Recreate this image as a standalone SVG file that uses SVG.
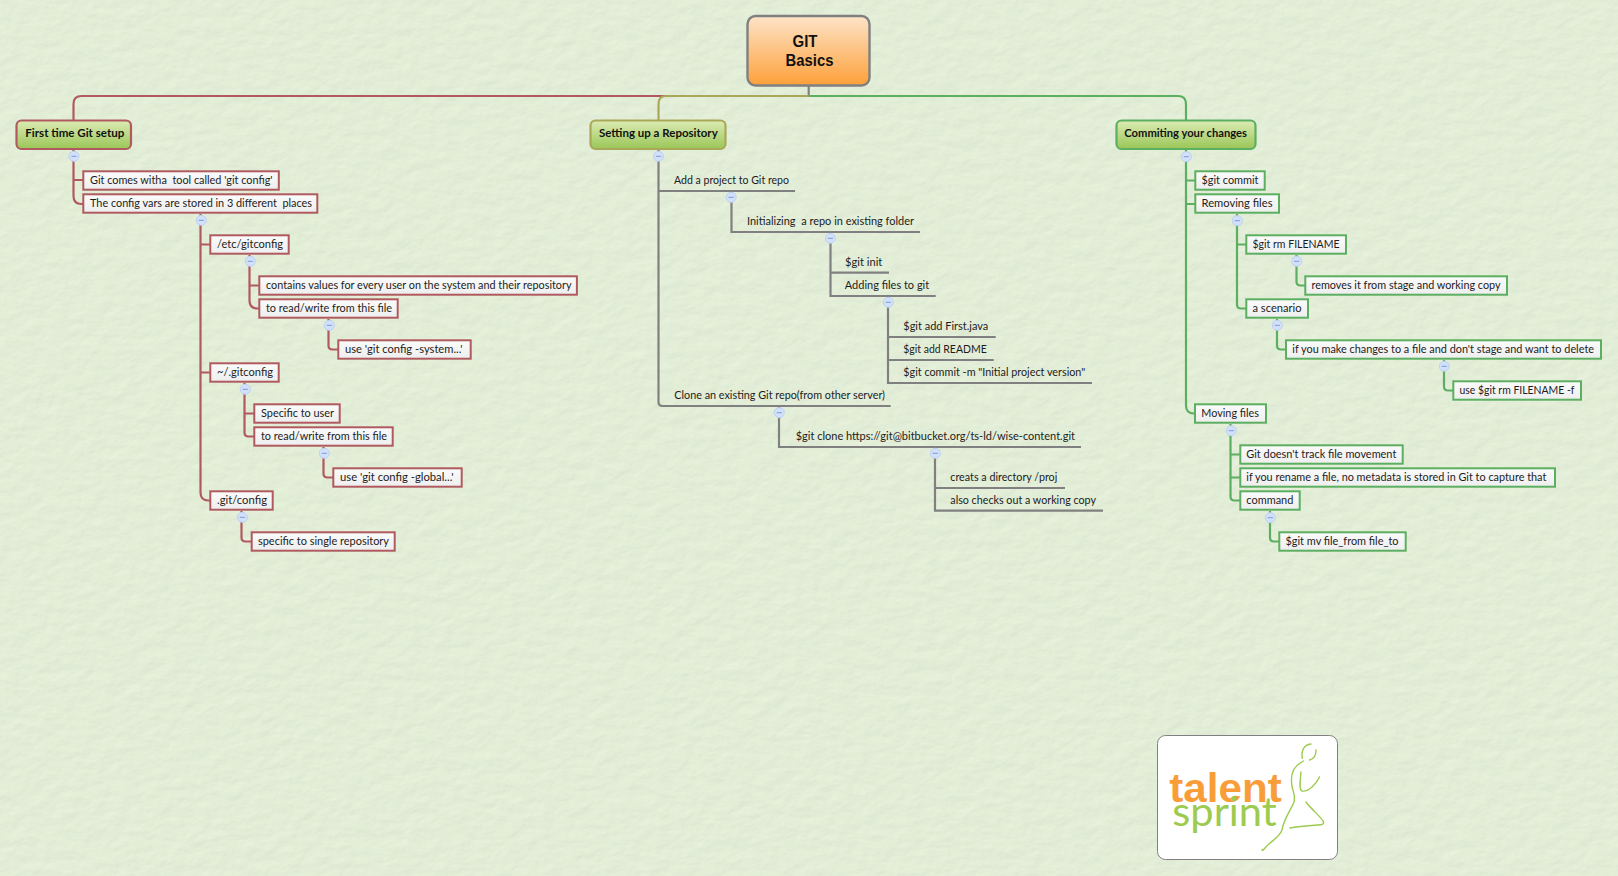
<svg xmlns="http://www.w3.org/2000/svg" width="1618" height="876" viewBox="0 0 1618 876">
<style>
text{font-family:"Lato","Noto Sans","Liberation Sans",sans-serif;font-size:12px;fill:#1c1c1c;white-space:pre;transform:translateY(.7px)}
.t{font-weight:700;fill:#111;font-size:12px;transform:none}
.root{font-family:"Liberation Sans",sans-serif;font-size:16.5px}
.logo-t{transform:none;font-size:40px}
.topic rect{stroke-width:2.2}
.leaf rect{fill:url(#lg);stroke-width:2}
.r rect{stroke:#b05a60}
.g rect{stroke:#5cae60}
.c path{fill:none;stroke-width:2.2}
.cr path{stroke:#b05a60}
.cg path{stroke:#5cae60}
.cy path{stroke:#808080}
</style>
<defs>
<linearGradient id="lg" x1="0" y1="0" x2="0" y2="1"><stop offset="0" stop-color="#fbfbfb"/><stop offset="1" stop-color="#eeeeee"/></linearGradient>
<linearGradient id="tg" x1="0" y1="0" x2="0" y2="1"><stop offset="0" stop-color="#dcebb4"/><stop offset="1" stop-color="#9ac657"/></linearGradient>
<linearGradient id="rg" x1="0" y1="0" x2="0" y2="1"><stop offset="0" stop-color="#fde4c8"/><stop offset="1" stop-color="#fda03a"/></linearGradient>
<filter id="paper" x="0" y="0" width="100%" height="100%">
<feTurbulence type="fractalNoise" baseFrequency="0.06 0.09" numOctaves="4" seed="7" result="n"/>
<feDiffuseLighting in="n" surfaceScale="0.45" diffuseConstant="1" lighting-color="#e3eed8"><feDistantLight azimuth="235" elevation="62"/></feDiffuseLighting>
<feComponentTransfer><feFuncR type="linear" slope="1.125" intercept="0"/><feFuncG type="linear" slope="1.125" intercept="0"/><feFuncB type="linear" slope="1.125" intercept="0"/></feComponentTransfer>
</filter>
<g id="minus"><circle r="5" fill="#d2e1fb" stroke="#bcd0f4" stroke-width="1"/><path d="M-2.6 0H2.6" stroke="#7f9ac8" stroke-width="1" fill="none"/></g>
</defs>
<rect id="background" width="1618" height="876" fill="#e3eed8"/>
<rect width="1618" height="876" filter="url(#paper)"/>

<g id="connectors" class="c">
<path d="M808.7 86V96" stroke="#808080"/>
<g class="cr">
<path d="M808.7 96H81.5Q73.5 96 73.5 104V120"/>
<path d="M73.5 149V196Q73.5 204 81.5 204H83M73.5 180H83"/>
<path d="M200.5 214V492.5Q200.5 500.5 208.5 500.5H210M200.5 244.5H210M200.5 372.5H210"/>
<path d="M249.5 255V300.5Q249.5 308.5 257.5 308.5H259M249.5 285.5H259"/>
<path d="M328.5 319V345.5Q328.5 349.5 332.5 349.5H338"/>
<path d="M244.5 383V432.5Q244.5 436.5 248.5 436.5H254M244.5 413.5H254"/>
<path d="M323.5 447V473.5Q323.5 477.5 327.5 477.5H333"/>
<path d="M241.5 511V537.5Q241.5 541.5 245.5 541.5H251"/>
</g>
<path d="M808.7 96H666Q658.5 96 658.5 104V120" stroke="#a9a858"/>
<g class="cy">
<path d="M658.5 149V402Q658.5 406 662.5 406H890.7M658.5 191H795"/>
<path d="M731.5 191V232H920"/>
<path d="M830.5 232V296H935.7M830.5 272.7H889"/>
<path d="M888 296V383H1092M888 337H995.7M888 360H993.7"/>
<path d="M779 406V447H1081"/>
<path d="M935 447V510.7H1103M935 488H1065"/>
</g>
<g class="cg">
<path d="M808.7 96H1178Q1186 96 1186 104V120"/>
<path d="M1186 149V405.5Q1186 413.5 1194 413.5H1195M1186 180.5H1195M1186 204H1195"/>
<path d="M1237 214V304.5Q1237 308.5 1241 308.5H1246M1237 244.5H1246"/>
<path d="M1296.5 255V281.5Q1296.5 285.5 1300.5 285.5H1305"/>
<path d="M1277 319V345.5Q1277 349.5 1281 349.5H1286"/>
<path d="M1444 360V386.5Q1444 390.5 1448 390.5H1453"/>
<path d="M1230.5 424V496.5Q1230.5 500.5 1234.5 500.5H1240M1230.5 454.5H1240M1230.5 477.5H1240"/>
<path d="M1270 511V537.5Q1270 541.5 1274 541.5H1279"/>
</g>
</g>

<g id="root"><rect x="747.5" y="16" width="122" height="69.5" rx="8" fill="url(#rg)" stroke="#808080" stroke-width="2.4"/>
<text class="t root" x="792.5" y="47" textLength="25" lengthAdjust="spacingAndGlyphs">GIT</text>
<text class="t root" x="785.6" y="66.3" textLength="47.8" lengthAdjust="spacingAndGlyphs">Basics</text></g>

<g id="topic-setup" class="topic"><rect x="16.5" y="120.5" width="114.5" height="28.5" rx="5" fill="url(#tg)" stroke="#b05a60"/><text class="t" x="25.3" y="137.3" textLength="99" lengthAdjust="spacingAndGlyphs">First time Git setup</text></g>
<g id="topic-repo" class="topic"><rect x="590.5" y="120.5" width="135" height="28.5" rx="5" fill="url(#tg)" stroke="#a9a858"/><text class="t" x="599" y="137.3" textLength="118.7" lengthAdjust="spacingAndGlyphs">Setting up a Repository</text></g>
<g id="topic-commit" class="topic"><rect x="1116.5" y="120.5" width="139" height="28.5" rx="5" fill="url(#tg)" stroke="#5cae60"/><text class="t" x="1124.3" y="137.3" textLength="122.7" lengthAdjust="spacingAndGlyphs">Commiting your changes</text></g>

<g id="n1" class="leaf r"><rect x="83.3" y="171.3" width="195.5" height="18.4"/><text x="90" y="183.3" textLength="182.5" lengthAdjust="spacingAndGlyphs">Git comes witha  tool called 'git config'</text></g>
<g id="n2" class="leaf r"><rect x="83.3" y="194.3" width="234" height="18.4"/><text x="90" y="206.3" textLength="222" lengthAdjust="spacingAndGlyphs">The config vars are stored in 3 different  places</text></g>
<g id="n3" class="leaf r"><rect x="210.3" y="235.3" width="78.4" height="18.4"/><text x="217" y="247.3" textLength="66" lengthAdjust="spacingAndGlyphs">/etc/gitconfig</text></g>
<g id="n4" class="leaf r"><rect x="259.3" y="276.3" width="317.6" height="18.4"/><text x="266" y="288.3" textLength="305.5" lengthAdjust="spacingAndGlyphs">contains values for every user on the system and their repository</text></g>
<g id="n5" class="leaf r"><rect x="259.3" y="299.3" width="138.4" height="18.4"/><text x="266" y="311.3" textLength="126" lengthAdjust="spacingAndGlyphs">to read/write from this file</text></g>
<g id="n6" class="leaf r"><rect x="338.3" y="340.3" width="132.4" height="18.4"/><text x="345" y="352.3" textLength="117.5" lengthAdjust="spacingAndGlyphs">use 'git config -system...'</text></g>
<g id="n7" class="leaf r"><rect x="210.3" y="363.3" width="68.4" height="18.4"/><text x="217" y="375.3" textLength="56" lengthAdjust="spacingAndGlyphs">~/.gitconfig</text></g>
<g id="n8" class="leaf r"><rect x="254.3" y="404.3" width="85.4" height="18.4"/><text x="261" y="416.3" textLength="73" lengthAdjust="spacingAndGlyphs">Specific to user</text></g>
<g id="n9" class="leaf r"><rect x="254.3" y="427.3" width="138.4" height="18.4"/><text x="261" y="439.3" textLength="126" lengthAdjust="spacingAndGlyphs">to read/write from this file</text></g>
<g id="n10" class="leaf r"><rect x="333.3" y="468.3" width="128.4" height="18.4"/><text x="340" y="480.3" textLength="113.5" lengthAdjust="spacingAndGlyphs">use 'git config -global...'</text></g>
<g id="n11" class="leaf r"><rect x="210.3" y="491.3" width="62.4" height="18.4"/><text x="217" y="503.3" textLength="50" lengthAdjust="spacingAndGlyphs">.git/config</text></g>
<g id="n12" class="leaf r"><rect x="251.7" y="532.3" width="143" height="18.4"/><text x="258" y="544.3" textLength="131" lengthAdjust="spacingAndGlyphs">specific to single repository</text></g>

<g id="m1"><text x="674" y="183.3" textLength="115" lengthAdjust="spacingAndGlyphs">Add a project to Git repo</text></g>
<g id="m2"><text x="747" y="224.3" textLength="167" lengthAdjust="spacingAndGlyphs">Initializing  a repo in existing folder</text></g>
<g id="m3"><text x="845" y="265.3" textLength="37.3" lengthAdjust="spacingAndGlyphs">$git init</text></g>
<g id="m4"><text x="844.8" y="288.3" textLength="84.4" lengthAdjust="spacingAndGlyphs">Adding files to git</text></g>
<g id="m5"><text x="903.3" y="329.3" textLength="85" lengthAdjust="spacingAndGlyphs">$git add First.java</text></g>
<g id="m6"><text x="903.3" y="352.3" textLength="83.4" lengthAdjust="spacingAndGlyphs">$git add README</text></g>
<g id="m7"><text x="903.3" y="375.3" textLength="182" lengthAdjust="spacingAndGlyphs">$git commit -m "Initial project version"</text></g>
<g id="m8"><text x="674.3" y="398.3" textLength="210.7" lengthAdjust="spacingAndGlyphs">Clone an existing Git repo(from other server)</text></g>
<g id="m9"><text x="795.7" y="439.3" textLength="279.3" lengthAdjust="spacingAndGlyphs">$git clone https://git@bitbucket.org/ts-ld/wise-content.git</text></g>
<g id="m10"><text x="950.3" y="480.3" textLength="107" lengthAdjust="spacingAndGlyphs">creats a directory /proj</text></g>
<g id="m11"><text x="950.3" y="503.3" textLength="145.7" lengthAdjust="spacingAndGlyphs">also checks out a working copy</text></g>

<g id="c1" class="leaf g"><rect x="1195.3" y="171.3" width="69.4" height="18.4"/><text x="1201.5" y="183.3" textLength="57" lengthAdjust="spacingAndGlyphs">$git commit</text></g>
<g id="c2" class="leaf g"><rect x="1195.3" y="194.3" width="83.7" height="18.4"/><text x="1201.5" y="206.3" textLength="71" lengthAdjust="spacingAndGlyphs">Removing files</text></g>
<g id="c3" class="leaf g"><rect x="1246.3" y="235.3" width="99.7" height="18.4"/><text x="1252.5" y="247.3" textLength="87" lengthAdjust="spacingAndGlyphs">$git rm FILENAME</text></g>
<g id="c4" class="leaf g"><rect x="1305.3" y="276.3" width="201.7" height="18.4"/><text x="1311.5" y="288.3" textLength="189" lengthAdjust="spacingAndGlyphs">removes it from stage and working copy</text></g>
<g id="c5" class="leaf g"><rect x="1246.3" y="299.3" width="61.7" height="18.4"/><text x="1252.5" y="311.3" textLength="49" lengthAdjust="spacingAndGlyphs">a scenario</text></g>
<g id="c6" class="leaf g"><rect x="1286" y="340.3" width="315" height="18.4"/><text x="1292.3" y="352.3" textLength="301.7" lengthAdjust="spacingAndGlyphs">if you make changes to a file and don't stage and want to delete</text></g>
<g id="c7" class="leaf g"><rect x="1453.3" y="381.3" width="127.7" height="18.4"/><text x="1459.5" y="393.3" textLength="115" lengthAdjust="spacingAndGlyphs">use $git rm FILENAME -f</text></g>
<g id="c8" class="leaf g"><rect x="1195" y="404.3" width="71" height="18.4"/><text x="1201.3" y="416.3" textLength="57.7" lengthAdjust="spacingAndGlyphs">Moving files</text></g>
<g id="c9" class="leaf g"><rect x="1240.3" y="445.3" width="162.4" height="18.4"/><text x="1246.3" y="457.3" textLength="150" lengthAdjust="spacingAndGlyphs">Git doesn't track file movement</text></g>
<g id="c10" class="leaf g"><rect x="1240.3" y="468.3" width="314.7" height="18.4"/><text x="1246.3" y="480.3" textLength="300" lengthAdjust="spacingAndGlyphs">if you rename a file, no metadata is stored in Git to capture that</text></g>
<g id="c11" class="leaf g"><rect x="1240.3" y="491.3" width="59.4" height="18.4"/><text x="1246.3" y="503.3" textLength="47" lengthAdjust="spacingAndGlyphs">command</text></g>
<g id="c12" class="leaf g"><rect x="1279.3" y="532.3" width="126.4" height="18.4"/><text x="1285.5" y="544.3" textLength="113" lengthAdjust="spacingAndGlyphs">$git mv file_from file_to</text></g>

<g id="collapse">
<use href="#minus" x="74" y="156.3"/><use href="#minus" x="201.3" y="220.3"/><use href="#minus" x="250.3" y="261.3"/><use href="#minus" x="329.3" y="325.3"/><use href="#minus" x="245.3" y="389.3"/><use href="#minus" x="324.3" y="453.3"/><use href="#minus" x="242.3" y="517.3"/>
<use href="#minus" x="658.5" y="156.3"/><use href="#minus" x="731.2" y="197.3"/><use href="#minus" x="830.3" y="238.3"/><use href="#minus" x="888.3" y="302.3"/><use href="#minus" x="779.3" y="412.7"/><use href="#minus" x="935.3" y="453.3"/>
<use href="#minus" x="1186.3" y="156.7"/><use href="#minus" x="1237.3" y="220.7"/><use href="#minus" x="1296.7" y="261.3"/><use href="#minus" x="1277.3" y="325.3"/><use href="#minus" x="1444.3" y="366.3"/><use href="#minus" x="1231.3" y="430.7"/><use href="#minus" x="1270.3" y="517.7"/>
</g>

<g id="logo">
<rect x="1157.5" y="735.5" width="180" height="124" rx="8" fill="#fff" stroke="#808080" stroke-width="1"/>
<text class="logo-t" x="1169.3" y="801.7" textLength="112.4" lengthAdjust="spacingAndGlyphs" style="font-family:'Liberation Sans',sans-serif;font-weight:700;fill:#f99d38">talent</text>
<text class="logo-t" x="1172.3" y="826" textLength="104.4" lengthAdjust="spacingAndGlyphs" style="font-family:'Lato','Liberation Sans',sans-serif;font-size:41px;font-weight:400;fill:#9ccb4f">sprint</text>
<g fill="none" stroke="#9ccb4f" stroke-width="1.4" stroke-linecap="round">
<path d="M1302.3 758.3C1301 750 1304 745 1311 744"/>
<path d="M1316 750C1316 756 1314.5 759 1309.5 760"/>
<path d="M1303.5 761C1294 766 1291 772 1291.5 782C1292 792 1296 794 1294 802C1290 812 1284 818 1282 830C1279 838 1272 840 1265 848C1261 853 1264 848 1262 850"/>
<path d="M1301 772C1300 782 1299 790 1302 791C1309 792 1316 784 1319.5 777"/>
<path d="M1306 802C1312 810 1320 816 1323 821C1325 824 1322 825 1318 825C1305 826 1295 827 1290 828"/>
</g>
</g>
</svg>
